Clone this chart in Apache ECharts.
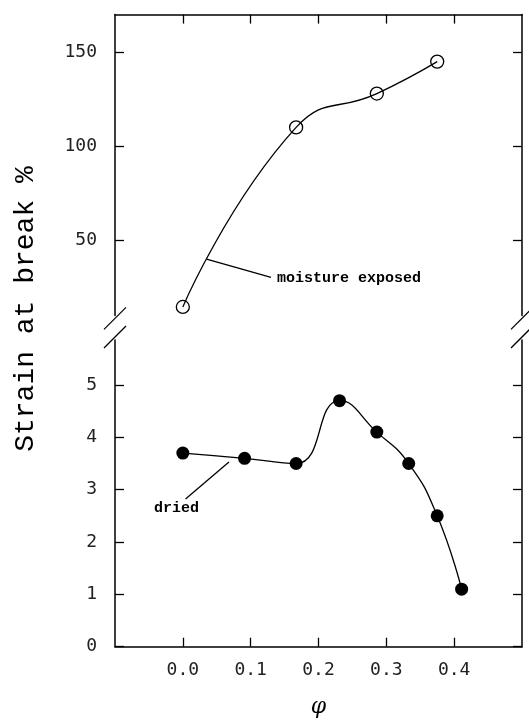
<!DOCTYPE html>
<html>
<head>
<meta charset="utf-8">
<title>Strain at break</title>
<script src="https://cdn.jsdelivr.net/npm/echarts@6/dist/echarts.min.js"></script>
<style>
    html, body { margin: 0; padding: 0; background: #fff; }
    #chart { width: 529px; height: 723px; }
</style>
</head>
<body>
<div id="chart"></div>
<script>
// values
var phiMoist = [0, 0.167, 0.286, 0.375];
var strainMoist = [14.5, 110, 128, 145];
var phiDried = [0, 0.091, 0.167, 0.231, 0.286, 0.333, 0.375, 0.411];
var strainDried = [3.7, 3.6, 3.5, 4.7, 4.1, 3.5, 2.5, 1.1];
var xTicks = [0, 0.1, 0.2, 0.3, 0.4];
var yTicksTop = [50, 100, 150];
var yTicksBottom = [0, 1, 2, 3, 4, 5];

function zip(xs, ys) {
    return xs.map(function (x, i) { return [x, ys[i]]; });
}

var labelFont = {
    fontFamily: 'DejaVu Sans Mono',
    fontSize: 18,
    color: '#222'
};
var axisLine = { show: true, onZero: false, lineStyle: { color: '#000', width: 1.5 } };

function yAxis(grid, min, max, ticks, right) {
    return {
        type: 'value',
        gridIndex: grid,
        position: right ? 'right' : 'left',
        min: min,
        max: max,
        axisLine: axisLine,
        axisTick: { show: true, inside: true, length: 9, customValues: ticks, lineStyle: { color: '#000', width: 1.3 } },
        axisLabel: right ? { show: false } : Object.assign({ show: true, margin: 18, customValues: ticks }, labelFont),
        splitLine: { show: false }
    };
}

function xAxis(grid, pos, labels) {
    return {
        type: 'value',
        gridIndex: grid,
        position: pos,
        min: -0.1,
        max: 0.5,
        axisLine: axisLine,
        axisTick: { show: true, inside: true, length: 9, customValues: xTicks, lineStyle: { color: '#000', width: 1.3 } },
        axisLabel: labels ? Object.assign({
            show: true,
            margin: 15,
            customValues: xTicks,
            formatter: function (v) { return v.toFixed(1); }
        }, labelFont) : { show: false },
        splitLine: { show: false },
        name: labels ? 'φ' : '',
        nameLocation: 'middle',
        nameGap: 50,
        nameTextStyle: { fontFamily: 'DejaVu Serif', fontStyle: 'italic', fontSize: 22, color: '#000' }
    };
}

var myChart = echarts.init(document.getElementById('chart'));
var option = {
    backgroundColor: '#fff',
    animation: false,
    grid: [
        { left: 115, right: 7, top: 14.6, height: 300.8, outerBoundsMode: 'none' },
        { left: 115, right: 7, top: 340, bottom: 76.3, outerBoundsMode: 'none' }
    ],
    xAxis: [
        xAxis(0, 'top', false),
        xAxis(1, 'bottom', true)
    ],
    yAxis: [
        yAxis(0, 10, 170, yTicksTop, false),
        yAxis(0, 10, 170, yTicksTop, true),
        yAxis(1, 0, 5.86, yTicksBottom, false),
        yAxis(1, 0, 5.86, yTicksBottom, true)
    ],
    series: [{
        type: 'line',
        name: 'moisture exposed',
        xAxisIndex: 0,
        yAxisIndex: 0,
        data: zip(phiMoist, strainMoist),
        smooth: 0.5,
        symbol: 'circle',
        symbolSize: 13,
        lineStyle: { color: '#000', width: 1.3 },
        itemStyle: { color: 'rgba(0,0,0,0)', borderColor: '#000', borderWidth: 1.3 }
    }, {
        type: 'line',
        name: 'dried',
        xAxisIndex: 1,
        yAxisIndex: 2,
        data: zip(phiDried, strainDried),
        smooth: 0.5,
        symbol: 'circle',
        symbolSize: 13,
        lineStyle: { color: '#000', width: 1.3 },
        itemStyle: { color: '#000' }
    }]
};
myChart.setOption(option);

// annotations and axis-break marks, placed from data / grid corners
function px(grid, p) {
    return myChart.convertToPixel({ gridIndex: grid }, p);
}
var annoFont = 'bold 15px "Liberation Mono", monospace';
var graphics = [];

var m0 = px(0, [0.035, 39.9]), m1 = px(0, [0.13, 30.2]);
graphics.push({ type: 'line', shape: { x1: m0[0], y1: m0[1], x2: m1[0], y2: m1[1] }, style: { stroke: '#000', lineWidth: 1.3 } });
graphics.push({ type: 'text', x: m1[0] + 6, y: m1[1] + 1, style: { text: 'moisture exposed', font: annoFont, fill: '#000', textVerticalAlign: 'middle' } });

var d0 = px(1, [0.068, 3.53]), d1 = px(1, [0.004, 2.82]);
graphics.push({ type: 'line', shape: { x1: d0[0], y1: d0[1], x2: d1[0], y2: d1[1] }, style: { stroke: '#000', lineWidth: 1.3 } });
graphics.push({ type: 'text', x: d1[0] - 9, y: d1[1] + 9, style: { text: 'dried', font: annoFont, fill: '#000', textAlign: 'center', textVerticalAlign: 'middle' } });

// break slashes on both sides
[-0.1, 0.5].forEach(function (xv) {
    var a = px(0, [xv, 10]);
    var b = px(1, [xv, 5.86]);
    graphics.push({ type: 'line', shape: { x1: a[0] - 11, y1: a[1] + 14, x2: a[0] + 11, y2: a[1] - 8 }, style: { stroke: '#000', lineWidth: 1.3 } });
    graphics.push({ type: 'line', shape: { x1: b[0] - 11, y1: b[1] + 8, x2: b[0] + 11, y2: b[1] - 14 }, style: { stroke: '#000', lineWidth: 1.3 } });
});

// y axis title spans both panels
graphics.push({
    type: 'text',
    x: 26,
    y: 309,
    rotation: Math.PI / 2,
    style: { text: 'Strain at break %', font: '28px "Liberation Mono", monospace', fill: '#000', textAlign: 'center', textVerticalAlign: 'middle' }
});

myChart.setOption({ graphic: graphics });
</script>
</body>
</html>
